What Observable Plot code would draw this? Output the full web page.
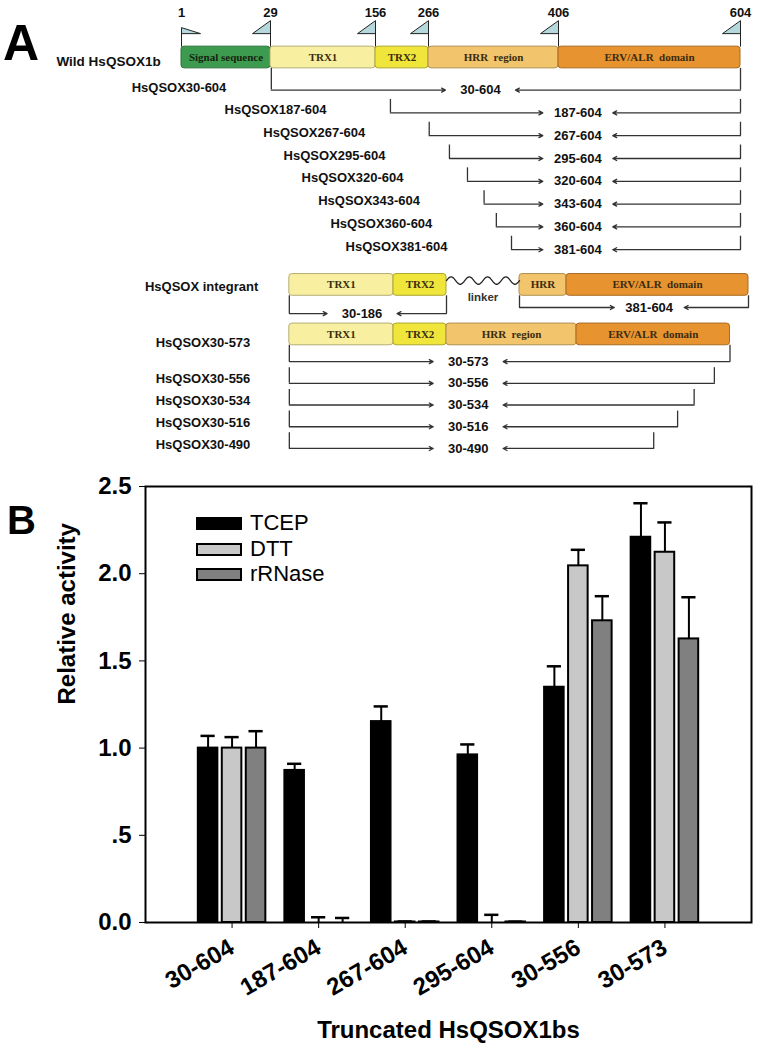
<!DOCTYPE html>
<html>
<head>
<meta charset="utf-8">
<script src="https://cdn.jsdelivr.net/npm/d3@7"></script>
<script src="https://cdn.jsdelivr.net/npm/@observablehq/plot@0.6"></script>
<style>
  html, body { margin: 0; padding: 0; background: #fff; }
  body { width: 757px; height: 1052px; position: relative; overflow: hidden; font-family: "Liberation Sans", Arial, sans-serif; }
  #panelA { position: absolute; left: 0; top: 0; }
  #panelB { position: absolute; left: 0; top: 460px; }
  .tag { position: absolute; font-weight: bold; line-height: 1; color: #000; }
  .key { position: absolute; left: 196px; width: 46px; height: 13px; box-sizing: border-box; border: 2px solid #000; }
  .keytxt { position: absolute; left: 250px; font-size: 22px; line-height: 22px; color: #000; }
</style>
</head>
<body>
<div id="panelA"></div>
<div id="panelB"></div>
<div class="tag" style="left:3px; top:18px; font-size:50px;">A</div>
<div class="tag" style="left:7px; top:500px; font-size:40px;">B</div>
<div id="legend"></div>
<script>
// ================= DATA =================
// Panel A: domain map of HsQSOX1b
const domainNames  = ["Signal sequence", "TRX1", "TRX2", "HRR\u00a0 region", "ERV/ALR\u00a0 domain"];
const domainStarts = [1, 29, 156, 266, 406];
const domainEnds   = [29, 156, 266, 406, 604];
const flagSites    = [1, 29, 156, 266, 406, 604];
const wildLabel    = "Wild HsQSOX1b";

// N-terminal truncations (all end at 604)
const nTruncStarts = [30, 187, 267, 295, 320, 343, 360, 381];
const nTruncEnd    = 604;

// integrant: two fragments joined by a linker
const integrantLabel  = "HsQSOX integrant";
const integrantStarts = [30, 381];
const integrantEnds   = [186, 604];
const linkerLabel     = "linker";

// C-terminal truncations (all start at 30)
const cTruncStart = 30;
const cTruncEnds  = [573, 556, 534, 516, 490];

// Panel B: relative activity
const constructs = ["30-604", "187-604", "267-604", "295-604", "30-556", "30-573"];
const reductants = ["TCEP", "DTT", "rRNase"];
const tcep       = [1.00, 0.872, 1.152, 0.961, 1.349, 2.209];
const tcepErr    = [0.070, 0.038, 0.087, 0.060, 0.120, 0.195];
const dtt        = [1.00, 0.000, 0.003, 0.000, 2.045, 2.123];
const dttErr     = [0.063, 0.030, 0.003, 0.044, 0.092, 0.171];
const rrnase     = [1.00, 0.000, 0.003, 0.003, 1.730, 1.626];
const rrnaseErr  = [0.097, 0.026, 0.003, 0.002, 0.141, 0.239];
const yTicks     = [0, 0.5, 1, 1.5, 2, 2.5];
const xTitle     = "Truncated HsQSOX1bs";
const yTitle     = "Relative activity";

// ================= STYLE / LAYOUT =================
const domainFill = ["#3d9b50", "#f8f0a0", "#efe53b", "#f2c56c", "#e7932f"];
const domainInk  = ["#17240f", "#3a2c10", "#3a2c10", "#3a2c10", "#3a2c10"];
const barFill    = ["#000000", "#c8c8c8", "#808080"];
const ink = "#333";

// schematic (non-proportional) residue -> pixel scale
const xs = d3.scaleLinear()
  .domain([1, 29, 156, 266, 381, 406, 604])
  .range([181, 270, 375, 428, 511, 558, 740]);
const U = 21.72, Y0 = 57;

const wildRow = 0;
const intRow = 10.47;
const c573Row = 12.75;
const lowerDx = 18, intCDx = 8;

function drawDomains(from, to, row, clipEnd) {
  return domainNames.map((name, i) => ({i, name, s: domainStarts[i], e: domainEnds[i]}))
    .filter(d => d.e > from && d.s < to)
    .map(d => {
      const start = Math.max(d.s, from), end = clipEnd ? Math.min(d.e, to) : d.e;
      const w = xs(end) - xs(start);
      return {
        ...d, start, end, row,
        label: w < 60 ? d.name.split(/\s/)[0] : d.name,
        mid: xs.invert((xs(start) + xs(end)) / 2),
        fill: domainFill[d.i],
        stroke: d3.color(domainFill[d.i]).darker(0.9).formatHex(),
        ink: domainInk[d.i]
      };
    });
}

const wildBoxes = drawDomains(1, 604, wildRow, true);
const lowBoxes = drawDomains(cTruncStart, cTruncEnds[0], c573Row, true)
  .concat(drawDomains(integrantStarts[0], integrantEnds[0], intRow, false));
const intCBoxes = drawDomains(integrantStarts[1], integrantEnds[1], intRow, true);

const nRows = nTruncStarts.map((s, k) => {
  const y = 1.5 + k * 1.05;
  return {start: s, end: nTruncEnd, drawEnd: nTruncEnd, y, top: k === 0 ? wildRow + 0.5 : y - 0.62,
          anchor: k === 0 ? 338 : 427, lab: "HsQSOX" + s + "-" + nTruncEnd};
});
const cRows = cTruncEnds.map((e, k) => {
  const y = 14 + k;
  return {start: cTruncStart, end: e, drawEnd: e, y, top: k === 0 ? c573Row + 0.5 : y - 0.72,
          anchor: 296, lab: "HsQSOX" + cTruncStart + "-" + e};
});
const intNRows = [{start: integrantStarts[0], end: integrantEnds[0],
  drawEnd: d3.max(lowBoxes.filter(b => b.row === intRow), b => b.end),
  y: 11.79, top: intRow + 0.5, anchor: 118}];
const intCRows = [{start: integrantStarts[1], end: integrantEnds[1], drawEnd: integrantEnds[1],
  y: 11.51, top: intRow + 0.5, anchor: 496}];

function bracket(rows, dx) {
  const st = {stroke: ink, strokeWidth: 1.3, dx};
  const ar = {insetEnd: 35, headLength: 5, headAngle: 55, ...st};
  return [
    Plot.ruleX(rows, {x: "start", y1: "top", y2: "y", ...st}),
    Plot.ruleX(rows, {x: "drawEnd", y1: "top", y2: "y", ...st}),
    Plot.arrow(rows, {x1: "start", y1: "y", x2: "anchor", y2: "y", ...ar}),
    Plot.arrow(rows, {x1: "drawEnd", y1: "y", x2: "anchor", y2: "y", ...ar}),
    Plot.text(rows, {x: "anchor", y: "y", dx, text: d => d.start + "-" + d.end,
      fontSize: 13, fontWeight: "bold", fill: "#111"})
  ];
}

function boxes(data, dx) {
  return [
    Plot.rect(data, {x1: "start", x2: "end", y1: d => d.row - 0.5, y2: d => d.row + 0.5,
      fill: "fill", stroke: "stroke", strokeWidth: 1, rx: 3, dx}),
    Plot.text(data, {x: "mid", y: "row", text: "label", fill: "ink", dx,
      fontFamily: "'Liberation Serif', 'Times New Roman', serif", fontWeight: "bold", fontSize: 11})
  ];
}

// flag glyphs (pole + pennant), drawn from the box top
const flagLeft = {draw(c) { c.moveTo(0, 0); c.lineTo(0, -26); c.lineTo(-18, -13); c.lineTo(0, -13); }};
const flagRight = {draw(c) { c.moveTo(0, 0); c.lineTo(0, -19); c.lineTo(19, -13); c.lineTo(0, -13); }};

// linker wave between the two integrant fragments
const w0 = xs(domainEnds[2]) + lowerDx, w1 = xs(integrantStarts[1]) + intCDx;
const wave = d3.range(0, 121).map(k => {
  const t = k / 120;
  return {x: xs.invert(w0 + t * (w1 - w0)), y: intRow - 0.2 - 0.17 * Math.sin(t * 2 * Math.PI * 4)};
});

const labelStyle = {fontSize: 13, fontWeight: "bold", fill: "#111", textAnchor: "end"};

const plotA = Plot.plot({
  width: 757, height: 460, margin: 0,
  x: {type: "linear", domain: xs.domain(), range: xs.range(), axis: null},
  y: {type: "linear", domain: [0, 18], range: [Y0, Y0 + 18 * U], axis: null},
  color: {type: "identity"},
  style: {fontFamily: "'Liberation Sans', Arial, sans-serif", background: "transparent", overflow: "visible"},
  marks: [
    Plot.dot(flagSites.filter(d => d !== 1), {x: d => d, y: wildRow - 0.5, symbol: flagLeft, fill: "#b5d8dc", stroke: "#222", strokeWidth: 1}),
    Plot.dot(flagSites.filter(d => d === 1), {x: d => d, y: wildRow - 0.5, symbol: flagRight, fill: "#b5d8dc", stroke: "#222", strokeWidth: 1}),
    Plot.text(flagSites, {x: d => d, y: wildRow, dy: -45, text: d => String(d), fontSize: 13, fontWeight: "bold", fill: "#111"}),
    ...boxes(wildBoxes, 0),
    ...boxes(lowBoxes, lowerDx),
    ...boxes(intCBoxes, intCDx),
    Plot.line(wave, {x: "x", y: "y", stroke: "#222", strokeWidth: 1.3, curve: "natural"}),
    Plot.text([linkerLabel], {x: xs.invert((w0 + w1) / 2), y: intRow + 0.58, fontSize: 11.5, fontWeight: "bold", fill: "#333"}),
    ...bracket(nRows, 0),
    ...bracket(cRows, lowerDx),
    ...bracket(intNRows, lowerDx),
    ...bracket(intCRows, intCDx),
    Plot.text([wildLabel], {frameAnchor: "left", dx: 56, y: wildRow, dy: 4, textAnchor: "start", fontSize: 13.5, fontWeight: "bold", fill: "#111"}),
    Plot.text(nRows.slice(0, 1), {x: "start", y: "y", dx: -45, dy: -2, text: "lab", ...labelStyle}),
    Plot.text(nRows.slice(1), {x: "start", y: "y", dx: -64, dy: -3, text: "lab", ...labelStyle}),
    Plot.text([integrantLabel], {x: integrantStarts[0], y: intRow, dx: lowerDx - 31, dy: 2, ...labelStyle}),
    Plot.text(cRows.slice(0, 1), {x: "start", y: c573Row, dx: lowerDx - 39, dy: 8, text: "lab", ...labelStyle}),
    Plot.text(cRows.slice(1), {x: "start", y: "y", dx: lowerDx - 39, dy: -4, text: "lab", ...labelStyle})
  ]
});
document.getElementById("panelA").appendChild(plotA);

// ================= PANEL B =================
const series = [tcep, dtt, rrnase];
const errs = [tcepErr, dttErr, rrnaseErr];
const bars = constructs.flatMap((c, i) => reductants.map((r, j) => ({
  construct: c, reductant: r, value: series[j][i], err: errs[j][i],
  pos: i + 1 + (j - 1) * 0.277
})));
const halfW = 0.113, capW = 0.082;

const plotB = Plot.plot({
  width: 757, height: 592,
  marginLeft: 145, marginRight: 6, marginTop: 26, marginBottom: 130,
  style: {fontFamily: "'Liberation Sans', Arial, sans-serif", fontSize: "24px", fontWeight: "bold", color: "#000", background: "transparent", overflow: "visible"},
  x: {type: "linear", domain: [0, constructs.length + 1], ticks: constructs.map((c, i) => i + 1),
      tickFormat: i => constructs[i - 1], tickRotate: -30, tickSize: 6, tickPadding: 17, label: null},
  y: {type: "linear", domain: [0, 2.5], ticks: yTicks, tickFormat: d => d === 0.5 ? ".5" : d.toFixed(1),
      tickSize: 6, tickPadding: 8, label: null},
  color: {domain: reductants, range: barFill},
  marks: [
    Plot.rect(bars, {x1: d => d.pos - halfW, x2: d => d.pos + halfW, y1: 0, y2: "value",
      fill: "reductant", stroke: "#000", strokeWidth: 2}),
    Plot.ruleX(bars, {x: "pos", y1: "value", y2: d => d.value + d.err, stroke: "#000", strokeWidth: 2}),
    Plot.ruleY(bars, {y: d => d.value + d.err, x1: d => d.pos - capW, x2: d => d.pos + capW, stroke: "#000", strokeWidth: 2.5}),
    Plot.frame({stroke: "#000", strokeWidth: 2}),
    Plot.text([xTitle], {frameAnchor: "bottom", dy: 115, fontSize: 24, fontWeight: "bold", fill: "#000"}),
    Plot.text([yTitle], {frameAnchor: "left", dx: -78, rotate: -90, fontSize: 24, fontWeight: "bold", fill: "#000"})
  ]
});
document.getElementById("panelB").appendChild(plotB);

// legend (inside plot, top-left)
const legend = document.getElementById("legend");
reductants.forEach((r, j) => {
  const sw = document.createElement("div");
  sw.className = "key";
  sw.style.top = (517 + j * 25.5) + "px";
  sw.style.background = barFill[j];
  legend.appendChild(sw);
  const tx = document.createElement("div");
  tx.className = "keytxt";
  tx.style.top = (512 + j * 25.5) + "px";
  tx.textContent = r;
  legend.appendChild(tx);
});
</script>
</body>
</html>
